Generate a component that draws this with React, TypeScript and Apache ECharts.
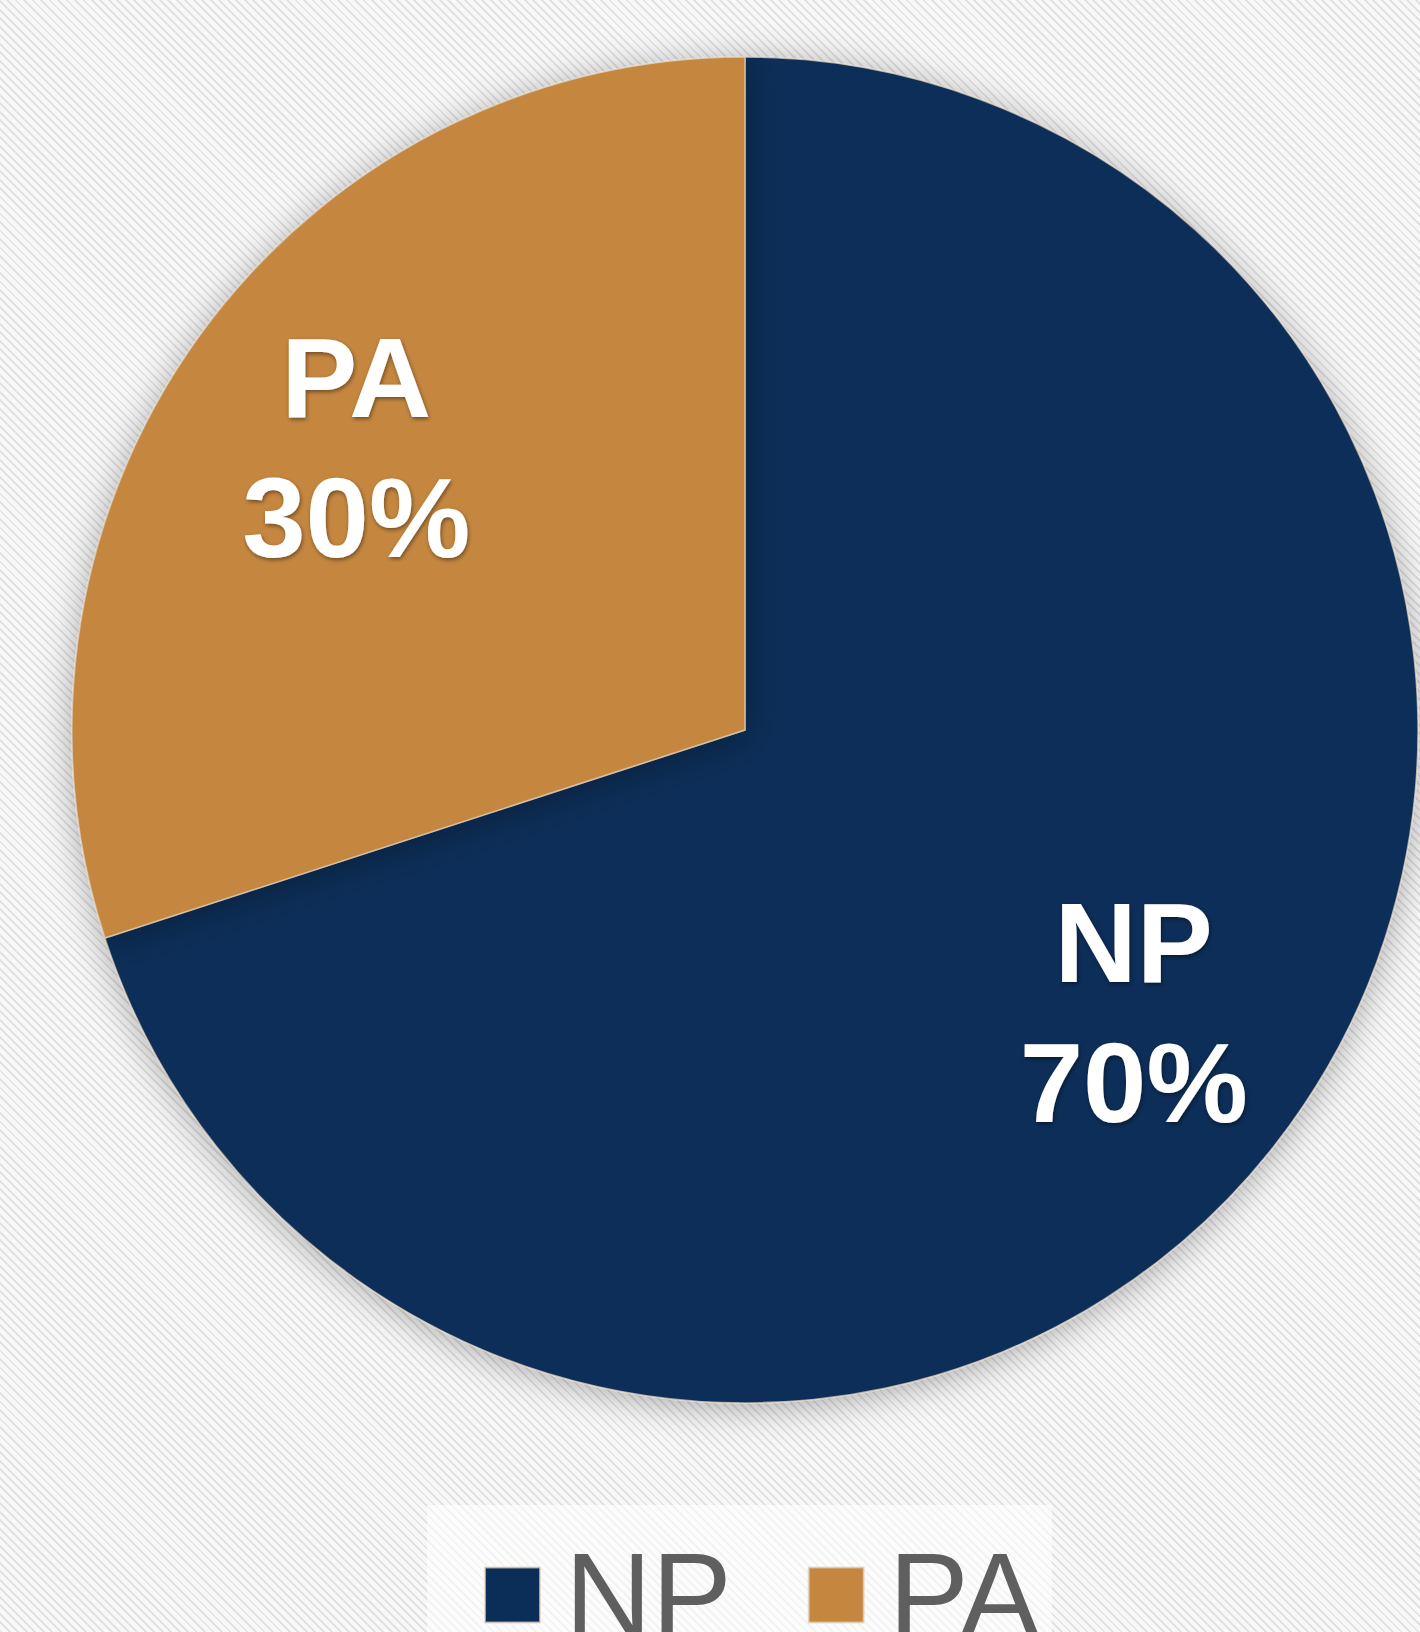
import React, { useEffect, useRef } from "react";
import * as echarts from "echarts";

const categories = ["NP", "PA"];
const values = [70, 30];
const colors = ["#0b2e59", "#c5873f"];

export default function App() {
  const ref = useRef<HTMLDivElement>(null);
  useEffect(() => {
    if (!ref.current) return;
    const chart = echarts.init(ref.current, null, { renderer: "svg" });
    const data = categories.map((name, i) => ({
      name,
      value: values[i],
      itemStyle: { color: colors[i] },
    }));
    chart.setOption({
      animation: false,
      backgroundColor: "transparent",
      legend: {
        data: categories.map((name, i) => ({ name, itemStyle: { color: colors[i] } })),
        left: 427,
        top: 1505,
        padding: [30, 12, 0, 57],
        backgroundColor: "rgba(255,255,255,0.6)",
        icon: "rect",
        itemWidth: 55,
        itemHeight: 55,
        itemGap: 76,
        textStyle: {
          fontSize: 120,
          lineHeight: 120,
          color: "#5f5f5f",
          fontFamily: "Liberation Sans, Arial, sans-serif",
          padding: [0, 0, 0, 20],
        },
      },
      series: [
        {
          type: "pie",
          center: [745, 730],
          radius: [0, 673],
          startAngle: 90,
          clockwise: true,
          silent: true,
          label: { show: false },
          labelLine: { show: false },
          itemStyle: {
            borderColor: "rgba(225,210,190,0.7)",
            borderWidth: 1.5,
            shadowBlur: 34,
            shadowColor: "rgba(0,0,0,0.32)",
            shadowOffsetY: 4,
          },
          data,
        },
        {
          type: "pie",
          center: [745, 730],
          radius: [282, 673],
          startAngle: 90,
          clockwise: true,
          silent: true,
          legendHoverLink: false,
          itemStyle: { color: "rgba(0,0,0,0)", borderWidth: 0 },
          label: {
            show: true,
            position: "inside",
            formatter: "{b}\n{d}%",
            color: "#ffffff",
            fontSize: 114,
            fontWeight: "bold",
            lineHeight: 140,
            fontFamily: "Liberation Sans, Arial, sans-serif",
            align: "center",
            textShadowColor: "rgba(0,0,0,0.45)",
            textShadowBlur: 4,
            textShadowOffsetX: 1,
            textShadowOffsetY: 2,
          },
          labelLine: { show: false },
          data: categories.map((name, i) => ({ name, value: values[i] })),
        },
      ],
    });
    return () => chart.dispose();
  }, []);
  return (
    <div
      ref={ref}
      style={{
        position: "absolute",
        left: 0,
        top: 0,
        width: 1420,
        height: 1632,
        background:
          "repeating-linear-gradient(45deg, #e2e2e2 0px, #e2e2e2 2px, #f8f8f8 2px, #f8f8f8 6px)",
      }}
    />
  );
}
